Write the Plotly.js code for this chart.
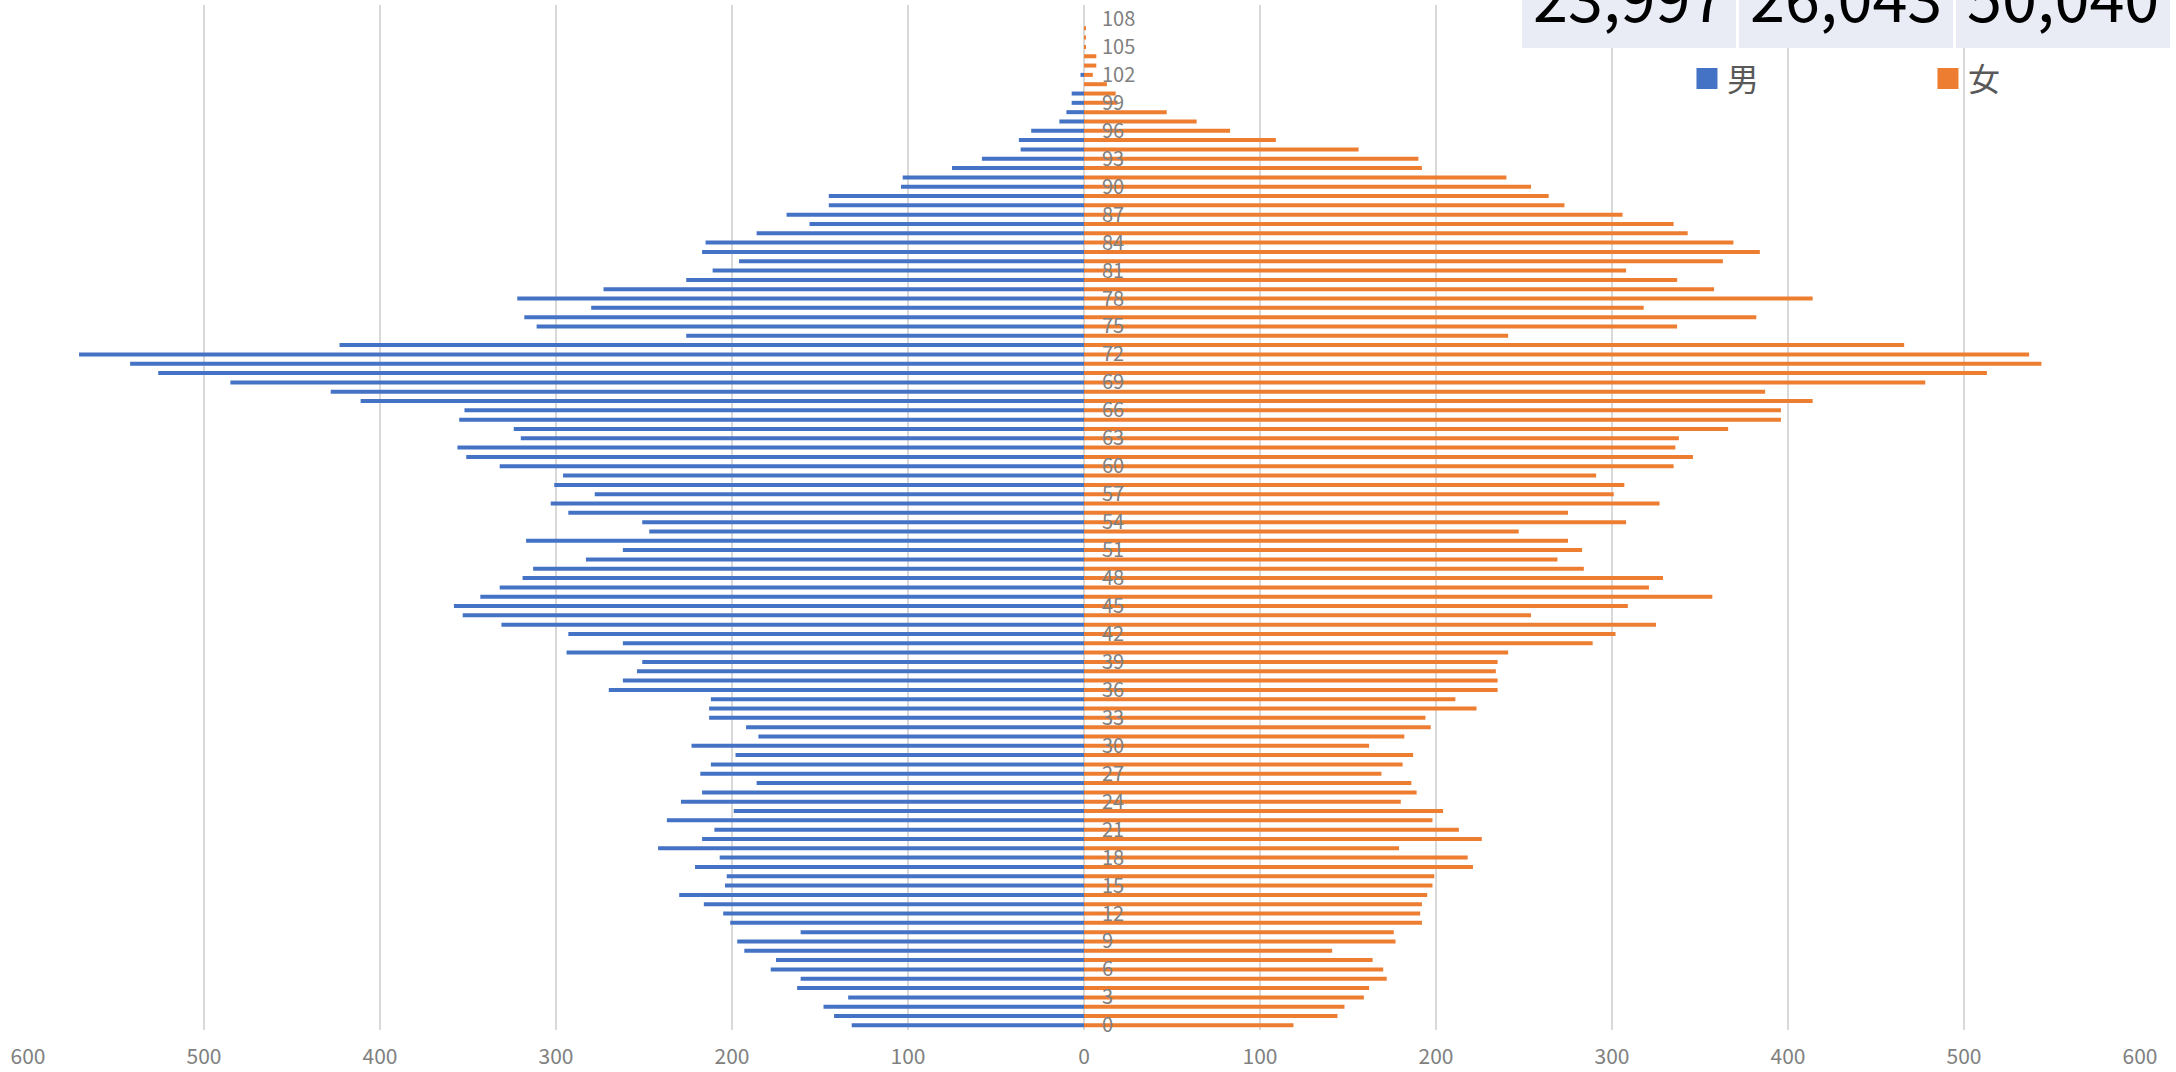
<!DOCTYPE html>
<html>
<head>
<meta charset="utf-8">
<script src="https://cdn.plot.ly/plotly-3.0.1.min.js"></script>
<style>
html,body{margin:0;padding:0;background:#fff;}
#chart{width:2176px;height:1072px;}
</style>
</head>
<body>
<div id="chart"></div>
<script>
// ---- data ----
const ages = [0,1,2,3,4,5,6,7,8,9,
  10,11,12,13,14,15,16,17,18,19,
  20,21,22,23,24,25,26,27,28,29,
  30,31,32,33,34,35,36,37,38,39,
  40,41,42,43,44,45,46,47,48,49,
  50,51,52,53,54,55,56,57,58,59,
  60,61,62,63,64,65,66,67,68,69,
  70,71,72,73,74,75,76,77,78,79,
  80,81,82,83,84,85,86,87,88,89,
  90,91,92,93,94,95,96,97,98,99,
  100,101,102,103,104,105,106,107,108];

const male = [132,142,148,134,163,161,178,175,193,197,
  161,201,205,216,230,204,203,221,207,242,
  217,210,237,199,229,217,186,218,212,198,
  223,185,192,213,213,212,270,262,254,251,
  294,262,293,331,353,358,343,332,319,313,
  283,262,317,247,251,293,303,278,301,296,
  332,351,356,320,324,355,352,411,428,485,
  526,542,571,423,226,311,318,280,322,273,
  226,211,196,217,215,186,156,169,145,145,
  104,103,75,58,36,37,30,14,10,7,
  7,0,2,0,0,0,0,0,0];

const female = [119,144,148,159,162,172,170,164,141,177,
  176,192,191,192,195,198,199,221,218,179,
  226,213,198,204,180,189,186,169,181,187,
  162,182,197,194,223,211,235,235,234,235,
  241,289,302,325,254,309,357,321,329,284,
  269,283,275,247,308,275,327,301,307,291,
  335,346,336,338,366,396,396,414,387,478,
  513,544,537,466,241,337,382,318,414,358,
  337,308,363,384,369,343,335,306,273,264,
  254,240,192,190,156,109,83,64,47,19,
  18,13,5,7,7,1,1,1,0];

const seriesNames = ['男', '女'];
const xTickVals = [-600,-500,-400,-300,-200,-100,0,100,200,300,400,500,600];
const xTickText = ['600','500','400','300','200','100','0','100','200','300','400','500','600'];
const ageTicks = [0,3,6,9,12,15,18,21,24,27,30,33,36,39,42,45,48,51,54,57,60,63,66,69,72,75,78,81,84,87,90,93,96,99,102,105,108];
const totals = ['23,997', '26,043', '50,040'];

// ---- styling ----
const BLUE = '#4472C4';
const ORANGE = '#ED7D31';
const FONT = '"Noto Sans CJK JP", "Noto Sans", sans-serif';
const BAR_W = 0.43;

const traces = [
  {
    type: 'bar', orientation: 'h', name: seriesNames[0],
    y: ages, x: male.map(v => -v), customdata: male,
    width: BAR_W, marker: {color: BLUE, line: {width: 0}},
    showlegend: false,
    hovertemplate: seriesNames[0] + ' %{y}歳: %{customdata}<extra></extra>'
  },
  {
    type: 'bar', orientation: 'h', name: seriesNames[1],
    y: ages, x: female,
    width: BAR_W, marker: {color: ORANGE, line: {width: 0}},
    showlegend: false,
    hovertemplate: seriesNames[1] + ' %{y}歳: %{x}<extra></extra>'
  },
  // legend entries
  {
    type: 'scatter', mode: 'markers', name: seriesNames[0],
    x: [null], y: [null], hoverinfo: 'skip',
    marker: {symbol: 'square', size: 16, color: BLUE, line: {color: BLUE, width: 5}}
  },
  {
    type: 'scatter', mode: 'markers', name: seriesNames[1],
    x: [null], y: [null], hoverinfo: 'skip',
    marker: {symbol: 'square', size: 16, color: ORANGE, line: {color: ORANGE, width: 5}}
  }
];

// totals cells (paper coords)
const cellX = [[0.7074, 0.8087], [0.8101, 0.9115], [0.9129, 1.0142]];
const shapes = cellX.map(c => ({
  type: 'rect', xref: 'paper', yref: 'paper',
  x0: c[0], x1: c[1], y0: 0.958, y1: 1.03,
  fillcolor: '#E9EBF5', line: {width: 0}, layer: 'above'
}));
const annotations = totals.map((t, i) => ({
  xref: 'paper', yref: 'paper',
  x: (cellX[i][0] + cellX[i][1]) / 2, y: 1.0098,
  xanchor: 'center', yanchor: 'middle',
  text: t, showarrow: false,
  font: {family: FONT, size: 63, color: '#000000'}
}));

const layout = {
  width: 2176, height: 1072,
  margin: {l: 28, r: 36, t: 5, b: 42, pad: 0},
  paper_bgcolor: '#ffffff', plot_bgcolor: '#ffffff',
  font: {family: FONT, color: '#808080'},
  barmode: 'relative',
  showlegend: true,
  legend: {
    orientation: 'h', x: 0.7855, xanchor: 'left', y: 0.928, yanchor: 'middle',
    bgcolor: 'rgba(0,0,0,0)', borderwidth: 0,
    font: {family: FONT, size: 32, color: '#595959'},
    entrywidth: 196, entrywidthmode: 'pixels', traceorder: 'normal'
  },
  xaxis: {
    range: [-600, 600], fixedrange: true,
    tickmode: 'array', tickvals: xTickVals, ticktext: xTickText,
    showgrid: true, gridcolor: '#d9d9d9', gridwidth: 1.5,
    zeroline: false, showline: false, ticks: '',
    ticklabelstandoff: 12,
    tickfont: {family: FONT, size: 21, color: '#808080'}
  },
  yaxis: {
    range: [-0.5, 109.5], fixedrange: true,
    anchor: 'free', position: 0.5, side: 'right',
    tickmode: 'array', tickvals: ageTicks, ticktext: ageTicks.map(String),
    showgrid: false, zeroline: false, showline: false, ticks: '',
    ticklabelstandoff: 17,
    tickfont: {family: FONT, size: 20, color: '#808080'}
  },
  shapes: shapes,
  annotations: annotations
};

Plotly.newPlot('chart', traces, layout, {displayModeBar: false, staticPlot: false, responsive: false});
</script>
</body>
</html>
